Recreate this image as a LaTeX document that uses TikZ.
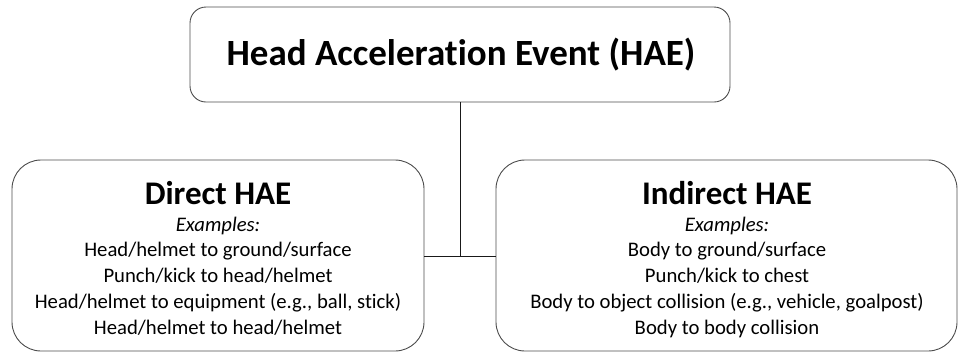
\documentclass[tikz,border=0pt]{standalone}
\usepackage{fontspec}
\setmainfont{Carlito}[Ligatures=NoCommon]
\begin{document}
\begin{tikzpicture}[x=1pt,y=-1pt,
  box/.style={draw=black!70, line width=0.9pt, rounded corners=#1},
  title/.style={font=\fontsize{37}{44}\selectfont\bfseries, anchor=base},
  head/.style={font=\fontsize{33}{40}\selectfont\bfseries, anchor=base},
  sub/.style={font=\fontsize{20.7}{25.75}\selectfont, align=center, anchor=base, inner sep=0pt},
  conn/.style={draw=black!90, line width=1pt}]
\useasboundingbox (0,0) rectangle (960,354);
% top box
\draw[box=16pt] (190,7) rectangle (730,102);
\node[title] (top) at (461,65) {Head Acceleration Event (HAE)};
\coordinate (topb) at (460,102);
% left box
\draw[box=29pt] (12,160) rectangle (424,351);
\coordinate (leftr) at (424,256);
\node[head] (dh) at (218,204) {Direct HAE};
% anchor base of a multi-line node = baseline of its last line
\node[sub] (dt) at (218,334) {\textit{Examples:}\\Head/helmet to ground/surface\\Punch/kick to head/helmet\\Head/helmet to equipment (e.g., ball, stick)\\Head/helmet to head/helmet};
% right box
\draw[box=29pt] (496,160) rectangle (957,351);
\coordinate (rightl) at (496,256);
\node[head] (ih) at (727,204) {Indirect HAE};
\node[sub] (it) at (727,334) {\textit{Examples:}\\Body to ground/surface\\Punch/kick to chest\\Body to object collision (e.g., vehicle, goalpost)\\Body to body collision};
% connectors
\coordinate (j) at (460,256);
\draw[conn] (topb) -- (j);
\draw[conn] (leftr) -- (rightl);
\end{tikzpicture}
\end{document}
